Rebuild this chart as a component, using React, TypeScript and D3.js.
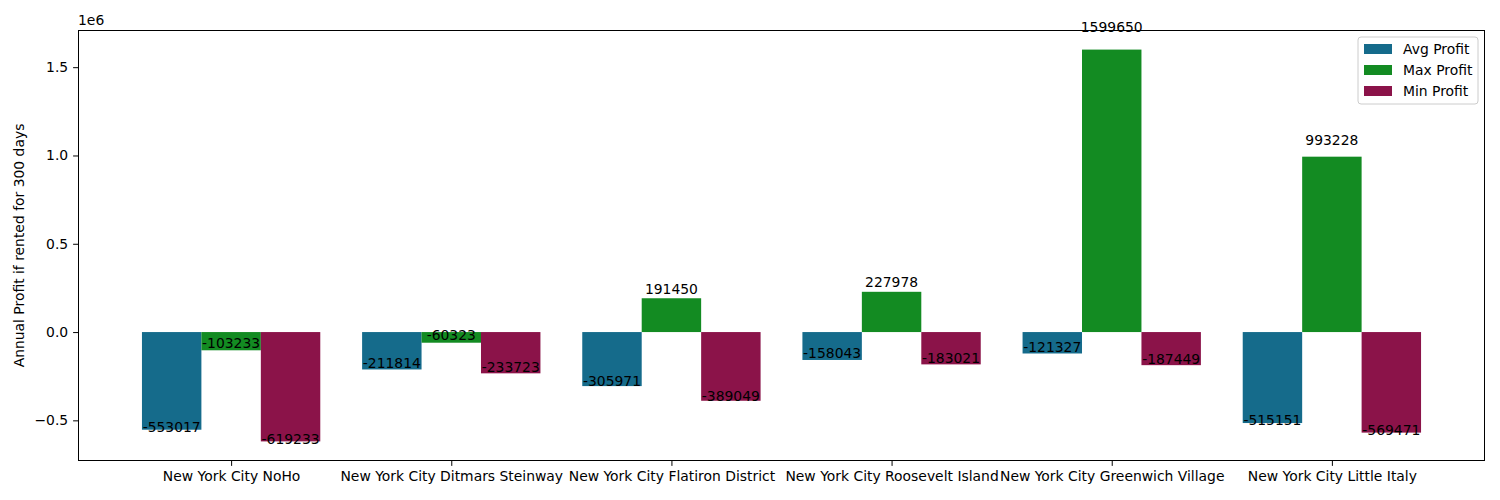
import React, { useEffect, useRef } from 'react';
import * as d3 from 'd3';

const categories = [
  'New York City NoHo',
  'New York City Ditmars Steinway',
  'New York City Flatiron District',
  'New York City Roosevelt Island',
  'New York City Greenwich Village',
  'New York City Little Italy',
];
const avgProfit = [-553017, -211814, -305971, -158043, -121327, -515151];
const maxProfit = [-103233, -60323, 191450, 227978, 1599650, 993228];
const minProfit = [-619233, -233723, -389049, -183021, -187449, -569471];
const seriesNames = ['Avg Profit', 'Max Profit', 'Min Profit'];
const seriesColors = ['#156b8b', '#138b22', '#8b1349'];
const yTicks = [-0.5e6, 0, 0.5e6, 1.0e6, 1.5e6];

const App = () => {
  const svgRef = useRef<SVGSVGElement>(null);

  useEffect(() => {
    const svg = d3.select(svgRef.current);
    svg.selectAll('*').remove();

    const W = 1500, H = 500;
    const margin = { top: 30, right: 15, bottom: 39, left: 78 };
    const width = W - margin.left - margin.right;
    const height = H - margin.top - margin.bottom;
    const font = 'DejaVu Sans, sans-serif';
    const fs = '13.9px';
    const barW = 0.27;
    const series = [avgProfit, maxProfit, minProfit];

    // matplotlib-like 5% margins on both axes
    const allVals = [...avgProfit, ...maxProfit, ...minProfit, 0];
    const lo = d3.min(allVals)!, hi = d3.max(allVals)!;
    const padY = (hi - lo) * 0.05;
    const y = d3.scaleLinear().domain([lo - padY, hi + padY]).range([height, 0]);
    const xLo = -1.5 * barW, xHi = categories.length - 1 + 1.5 * barW;
    const padX = (xHi - xLo) * 0.05;
    const x = d3.scaleLinear().domain([xLo - padX, xHi + padX]).range([0, width]);

    const g = svg.append('g').attr('transform', `translate(${margin.left},${margin.top})`);

    series.forEach((vals, si) => {
      const off = (si - 1) * barW;
      g.selectAll(`.bar${si}`)
        .data(vals)
        .enter().append('rect')
        .attr('x', (d, i) => x(i + off - barW / 2))
        .attr('width', x(barW) - x(0))
        .attr('y', d => y(Math.max(0, d)))
        .attr('height', d => Math.abs(y(d) - y(0)))
        .attr('fill', seriesColors[si]);

      g.selectAll(`.lbl${si}`)
        .data(vals)
        .enter().append('text')
        .attr('x', (d, i) => x(i + off))
        .attr('y', d => y(d * 1.05) - 3)
        .attr('text-anchor', 'middle')
        .style('font-family', font)
        .style('font-size', fs)
        .style('fill', '#000')
        .text(d => d);
    });

    // frame
    g.append('rect').attr('x', 0.5).attr('y', 0.5).attr('width', width - 1).attr('height', height - 1)
      .attr('fill', 'none').attr('stroke', '#000').attr('stroke-width', 1);

    // y axis
    const yAxis = g.append('g')
      .call(d3.axisLeft(y).tickValues(yTicks).tickSize(4.9).tickPadding(4.9)
        .tickFormat(d => ((d as number) / 1e6).toFixed(1).replace('-', '\u2212')));
    yAxis.select('.domain').remove();
    yAxis.selectAll('text').style('font-family', font).style('font-size', fs).attr('fill', '#000');

    // x axis
    const xAxis = g.append('g').attr('transform', `translate(0,${height})`)
      .call(d3.axisBottom(x).tickValues(d3.range(categories.length)).tickSize(4.9).tickPadding(4.9)
        .tickFormat((d, i) => categories[i]));
    xAxis.select('.domain').remove();
    xAxis.selectAll('text').style('font-family', font).style('font-size', fs).attr('fill', '#000');

    // offset text
    g.append('text').attr('x', 0).attr('y', -5)
      .style('font-family', font).style('font-size', fs).text('1e6');

    // y label
    g.append('text')
      .attr('transform', `translate(${-54},${height / 2}) rotate(-90)`)
      .attr('text-anchor', 'middle')
      .style('font-family', font).style('font-size', fs)
      .text('Annual Profit if rented for 300 days');

    // legend
    const lg = g.append('g').attr('transform', `translate(${width - 127},${7})`);
    lg.append('rect').attr('width', 120).attr('height', 67).attr('rx', 3)
      .attr('fill', '#fff').attr('fill-opacity', 0.8).attr('stroke', '#cccccc');
    seriesNames.forEach((name, i) => {
      lg.append('rect').attr('x', 6).attr('y', 7 + i * 21).attr('width', 28).attr('height', 10)
        .attr('fill', seriesColors[i]);
      lg.append('text').attr('x', 45).attr('y', 17 + i * 21)
        .style('font-family', font).style('font-size', fs).text(name);
    });
  }, []);

  return (
    <svg ref={svgRef} width={1500} height={500}
      style={{ position: 'absolute', left: 0, top: 0, background: '#fff' }} />
  );
};

export default App;
